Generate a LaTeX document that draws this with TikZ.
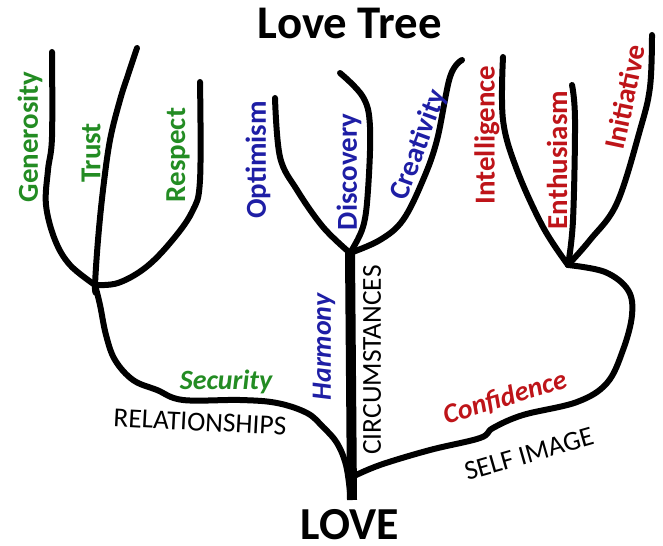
\documentclass[tikz,border=0pt]{standalone}
\usepackage{fontspec}
\setmainfont{Carlito}
\usetikzlibrary{calc}

\definecolor{leafgreen}{RGB}{35,140,35}
\definecolor{leafblue}{RGB}{30,30,165}
\definecolor{leafred}{RGB}{190,20,25}

\begin{document}
\begin{tikzpicture}[x=1bp,y=-1bp,inner sep=0pt,outer sep=0pt,
    branch/.style={line width=6bp,line cap=round,line join=round},
    trunk/.style={line width=10bp,line cap=butt},
    word/.style={font=\fontsize{29}{29}\selectfont\bfseries},
    slantword/.style={font=\fontsize{28}{28}\selectfont\bfseries\itshape},
    bigword/.style={font=\fontsize{27.5}{27.5}\selectfont},
    greenword/.style={word,text=leafgreen},
    blueword/.style={word,text=leafblue},
    redword/.style={word,text=leafred}]
    \useasboundingbox (0,0) rectangle (663,546);

    % junctions
    \coordinate (left_fork) at (95,285);
    \coordinate (mid_fork) at (350,253);
    \coordinate (right_fork) at (568,265);
    \coordinate (root) at (352,500);

    % title and root word
    \node[anchor=base] (title) at (350,39) {\fontsize{47}{47}\selectfont\bfseries Love Tree};
    \node[anchor=base] (love) at (350,539) {\fontsize{46}{46}\selectfont\bfseries LOVE};

    % left crown
    \draw[branch] plot[smooth,tension=0.6] coordinates
        {(52,52) (52,137) (48,170) (46,205) (55,240) (70,265) (left_fork)};
    \draw[branch] plot[smooth,tension=0.6] coordinates
        {(137,48) (128,75) (120,100) (110,140) (103,190) (98,240) (left_fork) (96,293)};
    \draw[branch] plot[smooth,tension=0.6] coordinates
        {(200,82) (200,180) (192,212) (170,243) (145,268) (118,283) (left_fork)};
    \draw[branch] plot[smooth,tension=0.6] coordinates
        {(left_fork) (100,305) (106,335) (115,360) (133,380) (157,390) (183,400)
         (240,400) (277,403) (307,413) (323,427) (337,443) (346,465) (350,492)};

    % middle crown
    \draw[trunk] (mid_fork) -- (root);
    \draw[branch] plot[smooth,tension=0.6] coordinates
        {(275,98) (280,157) (297,190) (323,227) (mid_fork)};
    \draw[branch] plot[smooth,tension=0.6] coordinates
        {(340,73) (363,97) (370,127) (368,190) (363,227) (mid_fork)};
    \draw[branch] plot[smooth,tension=0.6] coordinates
        {(462,60) (450,77) (437,140) (423,180) (403,220) (380,240) (mid_fork)};

    % right crown
    \draw[branch] plot[smooth,tension=0.6] coordinates
        {(503,57) (503,120) (517,170) (543,227) (right_fork)};
    \draw[branch] plot[smooth,tension=0.6] coordinates
        {(572,85) (575,120) (573,220) (right_fork)};
    \draw[branch] plot[smooth,tension=0.6] coordinates
        {(652,35) (650,87) (640,130) (617,203) (590,240) (right_fork)};
    \draw[branch] plot[smooth,tension=0.6] coordinates
        {(352,477) (380,465) (430,450) (480,438) (493,428) (523,415) (577,402)
         (607,383) (623,350) (632,315) (628,290) (605,272) (right_fork)};

    % leaf words
    \node[greenword,rotate=90] (generosity) at (30,137) {Generosity};
    \node[greenword,rotate=90] (trust) at (91,153) {Trust};
    \node[greenword,rotate=90] (respect) at (178,155) {Respect};
    \node[blueword,rotate=90] (optimism) at (258,160) {Optimism};
    \node[blueword,rotate=90] (discovery) at (349,172) {Discovery};
    \node[blueword,rotate=70] (creativity) at (419,145) {Creativity};
    \node[redword,rotate=90] (intelligence) at (487,135) {Intelligence};
    \node[redword,rotate=90] (enthusiasm) at (557,160) {Enthusiasm};
    \node[redword,rotate=78] (initiative) at (625,97) {Initiative};

    % branch words
    \node[greenword,slantword] (security) at (226,382) {Security};
    \node[blueword,slantword,rotate=90] (harmony) at (324,347) {Harmony};
    \node[redword,slantword,rotate=17] (confidence) at (505,398) {Confidence};
    \node[bigword,rotate=-3] (relationships) at (200,422) {RELATIONSHIPS};
    \node[bigword,rotate=90] (circumstances) at (372,360) {CIRCUMSTANCES};
    \node[bigword,rotate=16] (self_image) at (529,454) {SELF IMAGE};
\end{tikzpicture}
\end{document}
